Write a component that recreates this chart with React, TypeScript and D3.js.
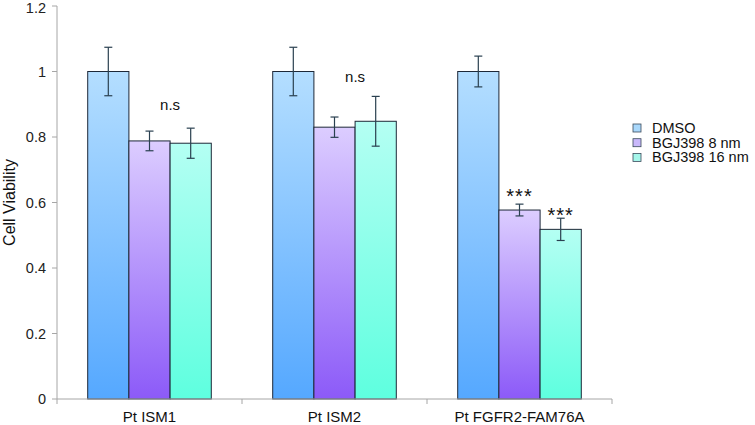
import React from "react";
import * as d3 from "d3";

const categories = ["Pt ISM1", "Pt ISM2", "Pt FGFR2-FAM76A"];
const series = ["DMSO", "BGJ398 8 nm", "BGJ398 16 nm"];
const dmso = [1.0, 1.0, 1.0];
const bgj8 = [0.788, 0.83, 0.577];
const bgj16 = [0.781, 0.848, 0.518];
const errDmso = [0.074, 0.074, 0.047];
const errBgj8 = [0.03, 0.031, 0.018];
const errBgj16 = [0.046, 0.076, 0.034];
const yTicks = [0, 0.2, 0.4, 0.6, 0.8, 1, 1.2];
const annotations = [
  { cat: 0, ser: 1.5, y: 0.9, text: "n.s", star: false },
  { cat: 1, ser: 1.5, y: 0.985, text: "n.s", star: false },
  { cat: 2, ser: 1, y: 0.6, text: "***", star: true },
  { cat: 2, ser: 2, y: 0.54, text: "***", star: true },
];

const values = [dmso, bgj8, bgj16];
const errors = [errDmso, errBgj8, errBgj16];
const gradTop = ["#b4deff", "#dccdff", "#b4fff3"];
const gradBot = ["#55a8ff", "#8c5af8", "#5effdf"];
const legendFill = ["#a9d8fb", "#c9b8fb", "#a5f6ea"];

export default function App() {
  const W = 755, H = 425;
  const left = 57, right = 612, top = 6, bottom = 399;
  const x0 = d3.scaleBand<string>().domain(categories).range([left, right]).padding(0);
  const x1 = d3
    .scaleBand<string>()
    .domain(series)
    .range([x0.bandwidth() * 0.166, x0.bandwidth() * 0.834])
    .padding(0);
  const y = d3.scaleLinear().domain([0, 1.2]).range([bottom, top]);
  const font = "Liberation Sans, Arial, sans-serif";
  const axisColor = "#a6a6a6";

  return (
    <svg width={W} height={H} style={{ position: "absolute", left: 0, top: 0, background: "#fff" }} fontFamily={font}>
      <defs>
        {series.map((s, i) => (
          <linearGradient key={s} id={`g${i}`} x1="0" y1="0" x2="0" y2="1">
            <stop offset="0" stopColor={gradTop[i]} />
            <stop offset="1" stopColor={gradBot[i]} />
          </linearGradient>
        ))}
      </defs>
      {/* Y axis */}
      <line x1={left} x2={left} y1={y(1.2)} y2={y(0)} stroke={axisColor} strokeWidth={1} />
      {yTicks.map((t) => (
        <g key={t}>
          <line x1={left - 5} x2={left} y1={y(t)} y2={y(t)} stroke={axisColor} />
          <text x={46} y={y(t)} dy={t === 1.2 ? "0.45em" : "0.36em"} textAnchor="end" fontSize={14.5} fill="#222">
            {String(t)}
          </text>
        </g>
      ))}
      <text
        transform={`translate(15,${(y(0) + y(1.2)) / 2}) rotate(-90)`}
        textAnchor="middle"
        fontSize={16}
        fill="#111"
      >
        Cell Viability
      </text>
      {/* Bars */}
      {categories.map((c, ci) => (
        <g key={c} transform={`translate(${x0(c)},0)`}>
          {series.map((s, si) => {
            const v = values[si][ci];
            const e = errors[si][ci];
            const bx = x1(s)!;
            const bw = x1.bandwidth();
            const cx = bx + bw / 2;
            return (
              <g key={s}>
                <rect
                  x={bx}
                  y={y(v)}
                  width={bw}
                  height={y(0) - y(v)}
                  fill={`url(#g${si})`}
                  stroke="#1d2838"
                  strokeWidth={1}
                />
                <line x1={cx} x2={cx} y1={y(v + e)} y2={y(v - e)} stroke="#2a4050" strokeWidth={1.2} />
                <line x1={cx - 4} x2={cx + 4} y1={y(v + e)} y2={y(v + e)} stroke="#2a4050" strokeWidth={1.2} />
                <line x1={cx - 4} x2={cx + 4} y1={y(v - e)} y2={y(v - e)} stroke="#2a4050" strokeWidth={1.2} />
              </g>
            );
          })}
        </g>
      ))}
      {/* X axis */}
      <line x1={left} x2={right} y1={y(0)} y2={y(0)} stroke={axisColor} strokeWidth={1} />
      {[...categories.map((c) => x0(c)!), right].map((tx, i) => (
        <line key={i} x1={tx} x2={tx} y1={y(0)} y2={y(0) + 5} stroke={axisColor} />
      ))}
      {categories.map((c) => (
        <text
          key={c}
          x={x0(c)! + x0.bandwidth() / 2}
          y={422}
          textAnchor="middle"
          fontSize={15}
          fill="#111"
        >
          {c}
        </text>
      ))}
      {/* Annotations */}
      {annotations.map((a, i) => {
        const c = categories[a.cat];
        const bw = x1.bandwidth();
        const base = x1.range()[0];
        const ax = x0(c)! + base + bw * (a.ser + 0.5);
        return a.star ? (
          <text key={i} x={ax} y={y(a.y)} textAnchor="middle" fontSize={20} letterSpacing={1} fill="#111">
            {a.text}
          </text>
        ) : (
          <text key={i} x={ax} y={y(a.y)} dy="0.35em" textAnchor="middle" fontSize={15} fill="#111">
            {a.text}
          </text>
        );
      })}
      {/* Legend */}
      {series.map((s, i) => (
        <g key={s} transform={`translate(633,${128 + i * 14.7})`}>
          <rect x={0} y={-4} width={8} height={8} fill={legendFill[i]} stroke="#3a4a5a" strokeWidth={0.8} />
          <text x={19} y={0} dy="0.35em" fontSize={14.5} fill="#111">
            {s}
          </text>
        </g>
      ))}
    </svg>
  );
}
